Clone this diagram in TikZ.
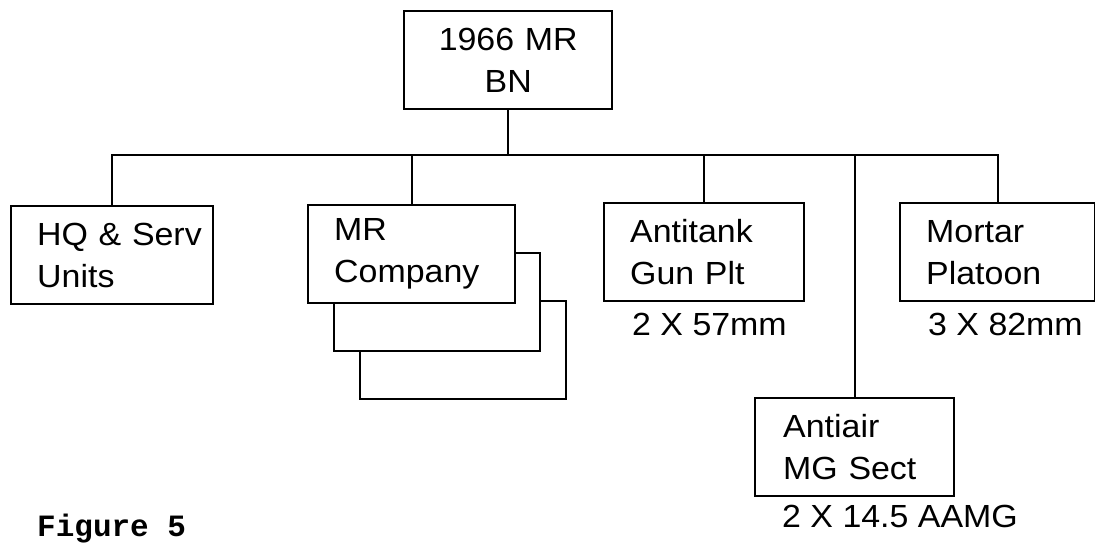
\documentclass[tikz,border=0pt]{standalone}
\usepackage{fontspec}
\setmainfont[FakeStretch=1.06]{Liberation Sans}
\newfontfamily\figfont{Liberation Mono}
\newcommand{\unitfont}{\fontsize{32}{42}\selectfont}
\begin{document}
\begin{tikzpicture}[x=1pt,y=-1pt,
  unitbox/.style={draw, line width=2.4pt, fill=white, anchor=north west,
    minimum height=98pt, inner sep=0pt, inner xsep=26pt, align=left, font=\unitfont},
  backbox/.style={draw, line width=2.4pt, fill=white, anchor=north west,
    minimum width=206pt, minimum height=98pt, inner sep=0pt},
  wpn/.style={anchor=base west, inner sep=0pt, font=\unitfont},
  link/.style={line width=2.4pt, line join=miter}
]
\useasboundingbox (0,0) rectangle (1095,543);

% top
\node[unitbox, minimum width=208pt, text width=176pt, inner xsep=16pt, align=center] (bn) at (403,10) {1966 MR\hspace*{14pt}\\BN\hspace*{14pt}};

% children
\node[unitbox, minimum width=202pt, text width=150pt] (hq) at (10,205) {\mbox{HQ \& Serv}\\Units};
\node[backbox] (mr3) at (359,300) {};
\node[backbox] (mr2) at (333,252) {};
\node[unitbox, minimum width=207pt, text width=155pt] (mr) at (307,204) {MR\\Company};
\node[unitbox, minimum width=200pt, text width=148pt] (at) at (603,202) {Antitank\\\mbox{Gun Plt}};
\node[unitbox, minimum width=195pt, text width=143pt] (mo) at (899,202) {Mortar\\Platoon};
\node[unitbox, minimum width=199pt, inner xsep=28pt, text width=143pt] (aa) at (754,397) {Antiair\\\mbox{MG Sect}};

% weapons
\node[wpn] (atw) at (632,335) {2 X 57mm};
\node[wpn] (mow) at (928,335) {3 X 82mm};
\node[wpn] (aaw) at (782,527) {2 X 14.5 AAMG};

% caption
\node[anchor=base west, inner sep=0pt, font={\fontsize{31}{31}\figfont\bfseries}] (cap) at (37,536) {Figure 5};

% connectors
\coordinate (bus) at (505,155);
\draw[link] (bn.south) -- (bn.south |- bus);
\draw[link] (hq.north) -- (hq.north |- bus) -- (mo.north |- bus) -- (mo.north);
\draw[link] (mr.north) -- (mr.north |- bus);
\draw[link] (at.north) -- (at.north |- bus);
\draw[link] (aa.north) -- (aa.north |- bus);
\end{tikzpicture}
\end{document}
